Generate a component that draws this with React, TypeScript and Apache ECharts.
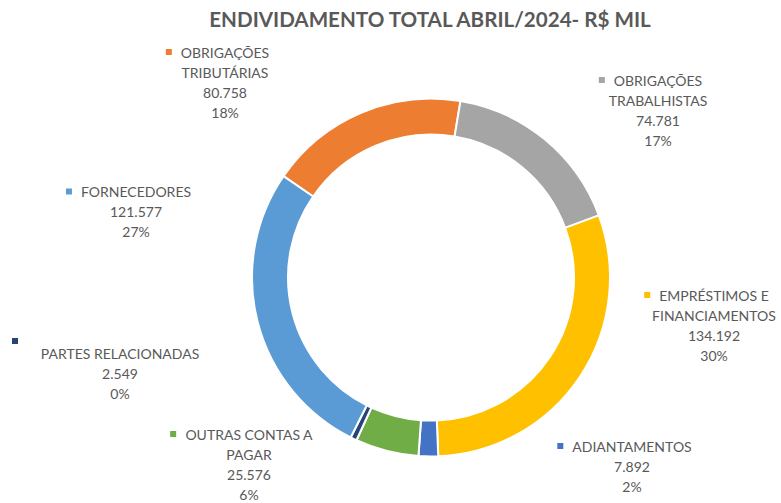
import React, { useEffect, useRef } from "react";
import * as echarts from "echarts";

// ---- Data ----
const titleText = "ENDIVIDAMENTO TOTAL ABRIL/2024- R$ MIL";
const categories = [
  "OBRIGAÇÕES\nTRIBUTÁRIAS",
  "OBRIGAÇÕES\nTRABALHISTAS",
  "EMPRÉSTIMOS E\nFINANCIAMENTOS",
  "ADIANTAMENTOS",
  "OUTRAS CONTAS A\nPAGAR",
  "PARTES RELACIONADAS",
  "FORNECEDORES",
];
const values = [80758, 74781, 134192, 7892, 25576, 2549, 121577];
const percentLabels = [18, 17, 30, 2, 6, 0, 27];

// ---- Styling / layout ----
const colors = ["#ED7D31", "#A5A5A5", "#FFC000", "#4472C4", "#70AD47", "#264478", "#5B9BD5"];
// label anchor: [centre x, top y]
const labelPos = [
  [225, 42],
  [658, 70],
  [714, 285],
  [632, 436],
  [249, 424],
  [120, 339],
  [136, 181.5],
];
const markerOwnLine = [false, false, false, false, false, true, false];

const fmt = (v: number) => String(v).replace(/\B(?=(\d{3})+(?!\d))/g, ".");

export default function App() {
  const ref = useRef<HTMLDivElement>(null);
  useEffect(() => {
    document.body.style.margin = "0";
    const chart = echarts.init(ref.current!, undefined, { renderer: "svg" });
    const rich: any = {
      t: { fontFamily: "Lato", fontSize: 14, color: "#595959", lineHeight: 20 },
      g: { width: 9, height: 6, lineHeight: 4 },
      h: { width: 6, height: 6, lineHeight: 4 },
      pad: { width: 210, height: 6, lineHeight: 4 },
    };
    colors.forEach((c, i) => {
      rich["m" + i] = { width: 6, height: 6, lineHeight: 4, backgroundColor: c };
    });
    chart.setOption({
      animation: false,
      title: {
        text: titleText,
        left: 430,
        top: 8,
        padding: 0,
        textAlign: "center",
        textStyle: { fontFamily: "Lato", fontSize: 20.6, fontWeight: "bold", color: "#595959" },
      },
      series: [
        {
          type: "pie",
          center: [431, 277.5],
          radius: [143, 179],
          startAngle: 145.5,
          clockwise: true,
          avoidLabelOverlap: false,
          itemStyle: { borderColor: "#ffffff", borderWidth: 2 },
          labelLine: { show: false },
          emphasis: { disabled: true },
          label: {
            show: true,
            position: "outside",
            fontFamily: "Lato",
            fontSize: 14,
            color: "#595959",
            lineHeight: 20,
            rich,
            formatter: (p: any) => {
              const i = p.dataIndex;
              const lines = categories[i].split("\n");
              const first = markerOwnLine[i]
                ? `{m${i}|}{pad|}\n{t|${lines[0]}}`
                : `{m${i}|}{g|}{t|${lines[0]}}{g|}{h|}`;
              const rest = lines.slice(1).map((l) => `{t|${l}}`);
              return [first, ...rest, `{t|${fmt(values[i])}}`, `{t|${percentLabels[i]}%}`].join("\n");
            },
          },
          labelLayout: (params: any) => {
            const [x, y] = labelPos[params.dataIndex];
            return { x, y, align: "center", verticalAlign: "top" };
          },
          data: values.map((v, i) => ({
            value: v,
            name: categories[i],
            itemStyle: { color: colors[i] },
          })),
        },
      ],
    });
    return () => chart.dispose();
  }, []);
  return <div ref={ref} style={{ width: 781, height: 503 }} />;
}
